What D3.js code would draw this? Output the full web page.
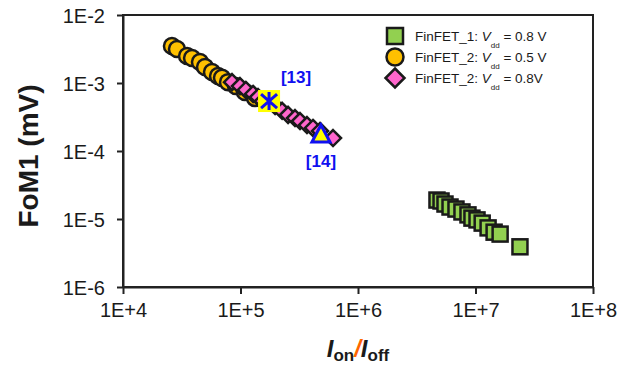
<!DOCTYPE html>
<html>
<head>
<meta charset="utf-8">
<script src="https://cdn.jsdelivr.net/npm/d3@7"></script>
<style>
  body { margin: 0; background: #fff; }
  svg { font-family: Arial, "Liberation Sans", sans-serif; }
</style>
</head>
<body>
<div id="viz"></div>
<script>
// FinFET_1, Vdd = 0.8 V (green squares)
var f1X = [4.70e6, 5.09e6, 5.50e6, 6.07e6, 6.82e6, 7.67e6, 8.63e6, 9.33e6, 1.03e7, 1.14e7, 1.28e7, 1.44e7, 1.62e7, 2.39e7];
var f1Y = [1.90e-5, 1.84e-5, 1.66e-5, 1.50e-5, 1.40e-5, 1.27e-5, 1.15e-5, 1.03e-5, 9.7e-6, 8.7e-6, 7.4e-6, 6.4e-6, 6.0e-6, 3.9e-6];

// FinFET_2, Vdd = 0.5 V (orange circles)
var f2aX = [2.61e4, 2.88e4, 3.51e4, 3.87e4, 4.52e4, 4.99e4, 5.72e4, 6.44e4, 6.96e4, 7.83e4, 9.16e4, 1.09e5, 1.33e5];
var f2aY = [3.50e-3, 3.16e-3, 2.49e-3, 2.33e-3, 2.04e-3, 1.72e-3, 1.45e-3, 1.27e-3, 1.19e-3, 1.03e-3, 9.0e-4, 7.4e-4, 6.0e-4];

// FinFET_2, Vdd = 0.8 V (pink diamonds)
var f2bX = [8.47e4, 9.9e4, 1.11e5, 1.28e5, 1.41e5, 1.55e5, 1.97e5, 2.26e5, 2.54e5, 2.91e5, 3.21e5, 3.68e5, 4.14e5, 4.75e5, 6.13e5];
var f2bY = [1.03e-3, 9.0e-4, 7.9e-4, 6.9e-4, 6.2e-4, 5.4e-4, 4.6e-4, 3.9e-4, 3.4e-4, 3.05e-4, 2.76e-4, 2.41e-4, 2.18e-4, 1.97e-4, 1.55e-4];

// reference works
var refNames = ['[13]', '[14]'];
var refX = [1.75e5, 4.84e5];
var refY = [5.43e-4, 1.72e-4];

var xTicks = [1e4, 1e5, 1e6, 1e7, 1e8];
var yTicks = [1e-6, 1e-5, 1e-4, 1e-3, 1e-2];

var legendNames = ['FinFET_1: ', 'FinFET_2: ', 'FinFET_2: '];
var legendVals = [' = 0.8 V', ' = 0.5 V', ' = 0.8V'];

var w = 633, h = 368;
var ink = '#1a1a1a';

var svg = d3.select('#viz').append('svg')
  .attr('width', w)
  .attr('height', h)

var x = d3.scaleLog().domain([1e4, 1e8]).range([123, 593])
var y = d3.scaleLog().domain([1e-6, 1e-2]).range([287, 15])

// plot frame
svg.append('rect')
  .attr('x', x(1e4)).attr('y', y(1e-2))
  .attr('width', x(1e8) - x(1e4)).attr('height', y(1e-6) - y(1e-2))
  .attr('fill', 'none').attr('stroke', '#222').attr('stroke-width', 2)

var xAxis = d3.axisBottom(x).tickValues(xTicks)
  .tickFormat(d => '1E+' + Math.round(Math.log10(d)))
  .tickSize(7).tickSizeOuter(0).tickPadding(9)
var yAxis = d3.axisLeft(y).tickValues(yTicks)
  .tickFormat(d => '1E' + Math.round(Math.log10(d)))
  .tickSize(6).tickSizeOuter(0).tickPadding(12)

var gx = svg.append('g').attr('transform', 'translate(0,' + y(1e-6) + ')').call(xAxis)
var gy = svg.append('g').attr('transform', 'translate(' + x(1e4) + ',0)').call(yAxis)
;[gx, gy].forEach(function(g) {
  g.select('.domain').attr('stroke', '#222').attr('stroke-width', 2)
  g.selectAll('.tick line').attr('stroke', '#222').attr('stroke-width', 2)
  g.selectAll('.tick text').attr('fill', ink).style('font-size', '20px')
})
gy.selectAll('.tick text').attr('dy', '0.36em')

// series
var sq = 15, cr = 8, dm = 8;

svg.append('g').selectAll('rect')
  .data(f1X.map((v, i) => [v, f1Y[i]]))
  .enter().append('rect')
  .attr('x', d => x(d[0]) - sq / 2)
  .attr('y', d => y(d[1]) - sq / 2)
  .attr('width', sq).attr('height', sq)
  .attr('fill', '#92D050').attr('stroke', ink).attr('stroke-width', 2.5)

svg.append('g').selectAll('circle')
  .data(f2aX.map((v, i) => [v, f2aY[i]]))
  .enter().append('circle')
  .attr('cx', d => x(d[0])).attr('cy', d => y(d[1]))
  .attr('r', cr)
  .attr('fill', '#FFC000').attr('stroke', ink).attr('stroke-width', 2.5)

var diamond = function(cx, cy, r) {
  return 'M' + cx + ',' + (cy - r) + 'L' + (cx + r) + ',' + cy + 'L' + cx + ',' + (cy + r) + 'L' + (cx - r) + ',' + cy + 'Z'
}

svg.append('g').selectAll('path')
  .data(f2bX.map((v, i) => [v, f2bY[i]]))
  .enter().append('path')
  .attr('d', d => diamond(x(d[0]), y(d[1]), dm))
  .attr('fill', '#FF66CC').attr('stroke', ink).attr('stroke-width', 2.5)

// [13]: yellow square with blue star
var r13x = x(refX[0]), r13y = y(refY[0])
svg.append('rect')
  .attr('x', r13x - 11).attr('y', r13y - 11)
  .attr('width', 22).attr('height', 22)
  .attr('fill', '#FFFF00')
svg.append('path')
  .attr('d', 'M' + r13x + ',' + (r13y - 9) + 'V' + (r13y + 9) +
    'M' + (r13x - 8) + ',' + (r13y - 7) + 'L' + (r13x + 8) + ',' + (r13y + 7) +
    'M' + (r13x - 8) + ',' + (r13y + 7) + 'L' + (r13x + 8) + ',' + (r13y - 7))
  .attr('stroke', '#1010F0').attr('stroke-width', 3).attr('fill', 'none')

// [14]: yellow triangle, blue outline
var r14x = x(refX[1]), r14y = y(refY[1])
svg.append('path')
  .attr('d', 'M' + r14x + ',' + (r14y - 10) + 'L' + (r14x + 9) + ',' + (r14y + 7) + 'L' + (r14x - 9) + ',' + (r14y + 7) + 'Z')
  .attr('fill', '#FFFF00').attr('stroke', '#1010F0').attr('stroke-width', 3)

svg.append('text').attr('x', r13x + 27).attr('y', r13y - 18)
  .attr('text-anchor', 'middle').attr('fill', '#1010F0')
  .style('font-size', '17px').style('font-weight', 'bold').text(refNames[0])
svg.append('text').attr('x', r14x).attr('y', r14y + 32)
  .attr('text-anchor', 'middle').attr('fill', '#1010F0')
  .style('font-size', '17px').style('font-weight', 'bold').text(refNames[1])

// legend
var leg = svg.append('g').attr('transform', 'translate(395,36)')
var rowH = 21
leg.append('rect').attr('x', -8).attr('y', -8).attr('width', 16).attr('height', 16)
  .attr('fill', '#92D050').attr('stroke', ink).attr('stroke-width', 2.5)
leg.append('circle').attr('cx', 0).attr('cy', rowH).attr('r', 8.5)
  .attr('fill', '#FFC000').attr('stroke', ink).attr('stroke-width', 2.5)
leg.append('path').attr('d', diamond(0, rowH * 2, 9.5))
  .attr('fill', '#FF66CC').attr('stroke', ink).attr('stroke-width', 2.5)

legendNames.forEach(function(n, i) {
  var t = leg.append('text').attr('x', 20).attr('y', i * rowH + 5)
    .attr('fill', ink).style('font-size', '13.5px')
  t.append('tspan').text(n)
  t.append('tspan').style('font-style', 'italic').text('V')
  t.append('tspan').attr('dy', 7).style('font-size', '8px').text('dd')
  t.append('tspan').attr('dy', -7).text(legendVals[i])
})

// axis titles
svg.append('text')
  .attr('transform', 'translate(38,156) rotate(-90)')
  .attr('text-anchor', 'middle').attr('fill', ink)
  .style('font-size', '28px').style('font-weight', 'bold')
  .text('FoM1 (mV)')

var xt = svg.append('text')
  .attr('x', (x(1e4) + x(1e8)) / 2).attr('y', 357)
  .attr('text-anchor', 'middle').attr('fill', ink)
  .style('font-weight', 'bold').style('font-size', '24px')
xt.append('tspan').style('font-style', 'italic').text('I')
xt.append('tspan').attr('dy', 4).style('font-size', '17px').text('on')
xt.append('tspan').attr('dy', -4).style('font-style', 'italic').attr('fill', '#FF6600').text('/')
xt.append('tspan').style('font-style', 'italic').text('I')
xt.append('tspan').attr('dy', 4).style('font-size', '17px').text('off')
</script>
</body>
</html>
